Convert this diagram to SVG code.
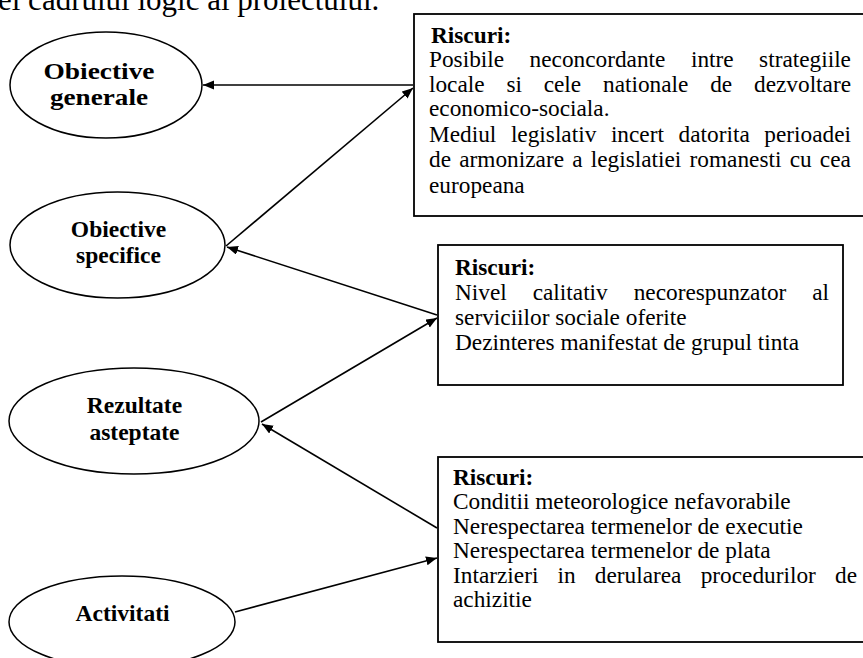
<svg xmlns="http://www.w3.org/2000/svg" width="863" height="658" viewBox="0 0 863 658">
<style>
.bg{fill:#fff}
.ell{fill:#fff;stroke:#000;stroke-width:1.5}
.box{fill:#fff;stroke:#000;stroke-width:1.8}
.et{font-family:"Liberation Serif","Times New Roman",serif;font-weight:bold;font-size:23.5px;fill:#000;text-anchor:middle}
.bt{font-family:"Liberation Serif","Times New Roman",serif;font-size:23.3px;fill:#000}
.bh{font-family:"Liberation Serif","Times New Roman",serif;font-size:23.3px;font-weight:bold;fill:#000}
.top{font-family:"Liberation Serif","Times New Roman",serif;font-size:31px;fill:#000}
.con{fill:none;stroke:#000;stroke-width:1.6}
</style>
<defs>
<marker id="ah" markerUnits="userSpaceOnUse" markerWidth="12" markerHeight="10" refX="11" refY="4.5" orient="auto">
<path d="M0,0 L11,4.5 L0,9 z" fill="#000"/>
</marker>
</defs>
<rect class="bg" x="0" y="0" width="863" height="658"/>
<text class="top" x="-2" y="10">ei cadrului logic al proiectului.</text>

<g id="connectors">
<line class="con" x1="413" y1="85" x2="203" y2="85" marker-end="url(#ah)"/>
<line class="con" x1="226" y1="246" x2="413" y2="88" marker-end="url(#ah)"/>
<line class="con" x1="437" y1="315" x2="227" y2="247" marker-end="url(#ah)"/>
<line class="con" x1="261" y1="422" x2="437" y2="318" marker-end="url(#ah)"/>
<line class="con" x1="437" y1="528" x2="262" y2="424" marker-end="url(#ah)"/>
<line class="con" x1="235" y1="612" x2="437" y2="558" marker-end="url(#ah)"/>
</g>

<g id="obiective-generale">
<ellipse class="ell" cx="106" cy="85" rx="96" ry="53"/>
<text class="et" x="99" y="79" textLength="111" lengthAdjust="spacingAndGlyphs">Obiective</text>
<text class="et" x="99" y="105" textLength="98" lengthAdjust="spacingAndGlyphs">generale</text>
</g>

<g id="obiective-specifice">
<ellipse class="ell" cx="117.5" cy="245" rx="107.5" ry="53"/>
<text class="et" x="118.5" y="237">Obiective</text>
<text class="et" x="118.5" y="263">specifice</text>
</g>

<g id="rezultate-asteptate">
<ellipse class="ell" cx="134" cy="421" rx="125" ry="53"/>
<text class="et" x="134.5" y="413">Rezultate</text>
<text class="et" x="134.5" y="440">asteptate</text>
</g>

<g id="activitati">
<ellipse class="ell" cx="122" cy="622" rx="113" ry="46"/>
<text class="et" x="122.5" y="621">Activitati</text>
</g>

<g id="riscuri-1">
<rect class="box" x="414" y="14" width="460" height="202"/>
<text class="bh" x="431" y="43">Riscuri:</text>
<text class="bt" y="67"><tspan x="429">Posibile</tspan><tspan x="529.6">neconcordante</tspan><tspan x="691">intre</tspan><tspan x="759.1">strategiile</tspan></text>
<text class="bt" y="92"><tspan x="429">locale</tspan><tspan x="506.4">si</tspan><tspan x="543.7">cele</tspan><tspan x="603">nationale</tspan><tspan x="710.2">de</tspan><tspan x="754">dezvoltare</tspan></text>
<text class="bt" x="429" y="116">economico-sociala.</text>
<text class="bt" y="142"><tspan x="429">Mediul</tspan><tspan x="510.9">legislativ</tspan><tspan x="610.9">incert</tspan><tspan x="678.6">datorita</tspan><tspan x="764.3">perioadei</tspan></text>
<text class="bt" x="429" y="167" word-spacing="2.4">de armonizare a legislatiei romanesti cu cea</text>
<text class="bt" x="429" y="193">europeana</text>
</g>

<g id="riscuri-2">
<rect class="box" x="438" y="245" width="405" height="140"/>
<text class="bh" x="455" y="275">Riscuri:</text>
<text class="bt" y="300"><tspan x="455">Nivel</tspan><tspan x="532.7">calitativ</tspan><tspan x="633.7">necorespunzator</tspan><tspan x="812.2">al</tspan></text>
<text class="bt" x="455" y="325">serviciilor sociale oferite</text>
<text class="bt" x="455" y="350">Dezinteres manifestat de grupul tinta</text>
</g>

<g id="riscuri-3">
<rect class="box" x="438" y="457" width="440" height="185"/>
<text class="bh" x="453" y="485">Riscuri:</text>
<text class="bt" x="453" y="509">Conditii meteorologice nefavorabile</text>
<text class="bt" x="453" y="534">Nerespectarea termenelor de executie</text>
<text class="bt" x="453" y="558">Nerespectarea termenelor de plata</text>
<text class="bt" y="583"><tspan x="453">Intarzieri</tspan><tspan x="557.6">in</tspan><tspan x="594.8">derularea</tspan><tspan x="700.7">procedurilor</tspan><tspan x="835">de</tspan></text>
<text class="bt" x="453" y="607">achizitie</text>
</g>
</svg>
